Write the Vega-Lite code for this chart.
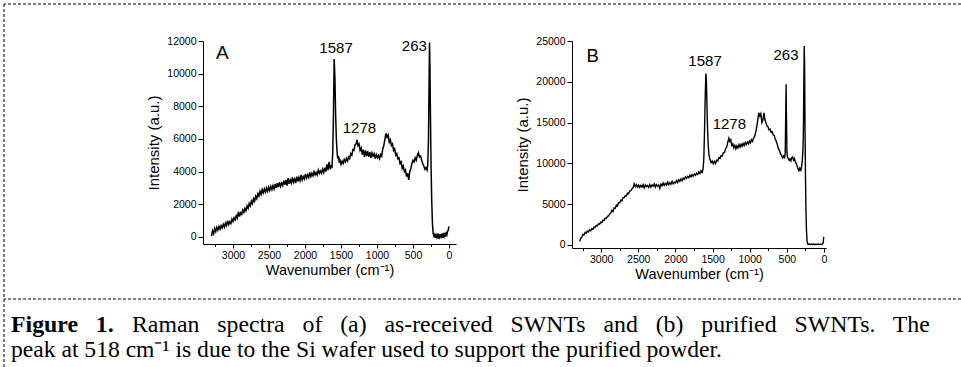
{
  "$schema": "https://vega.github.io/schema/vega-lite/v6.json",
  "padding": {"left": 3, "top": 3, "right": 0, "bottom": 0},
  "background": "white",
  "width": 957,
  "height": 363,
  "config": {
    "view": {"stroke": null},
    "axis": {"labelFont": "Liberation Sans", "labelFontSize": 10.5, "labelColor": "#000", "titleFont": "Liberation Sans", "titleFontWeight": "normal", "titleColor": "#000", "domainColor": "#000", "tickColor": "#000", "domainWidth": 1, "tickWidth": 1, "grid": false, "labelPadding": 2, "labelFlush": false, "labelOverlap": false},
    "axisX": {"titleFontSize": 14.5, "titlePadding": 3},
    "axisY": {"titleFontSize": 15, "titlePadding": 5}
  },
  "datasets": {
    "spectrumA": [
      {"wn":3300,"I":50},{"wn":3285,"I":380},{"wn":3270,"I":200},{"wn":3255,"I":520},{"wn":3240,"I":330},{"wn":3225,"I":600},{"wn":3210,"I":420},{"wn":3195,"I":650},{"wn":3180,"I":480},{"wn":3165,"I":700},{"wn":3150,"I":560},{"wn":3135,"I":780},{"wn":3120,"I":600},{"wn":3105,"I":850},{"wn":3090,"I":690},{"wn":3075,"I":1000},{"wn":3060,"I":760},{"wn":3045,"I":930},{"wn":3030,"I":820},{"wn":3015,"I":1100},{"wn":3000,"I":950},{"wn":2985,"I":1180},{"wn":2970,"I":1050},{"wn":2955,"I":1300},{"wn":2940,"I":1150},{"wn":2925,"I":1550},{"wn":2910,"I":1250},{"wn":2895,"I":1480},{"wn":2880,"I":1380},{"wn":2865,"I":1650},{"wn":2850,"I":1500},{"wn":2835,"I":1750},{"wn":2820,"I":1600},{"wn":2805,"I":1900},{"wn":2790,"I":1750},{"wn":2775,"I":2050},{"wn":2760,"I":1900},{"wn":2745,"I":2200},{"wn":2730,"I":2050},{"wn":2715,"I":2350},{"wn":2700,"I":2200},{"wn":2685,"I":2500},{"wn":2670,"I":2350},{"wn":2655,"I":2650},{"wn":2640,"I":2500},{"wn":2625,"I":2800},{"wn":2610,"I":2600},{"wn":2595,"I":2900},{"wn":2580,"I":2700},{"wn":2565,"I":2950},{"wn":2550,"I":2750},{"wn":2535,"I":3000},{"wn":2520,"I":2800},{"wn":2505,"I":3050},{"wn":2490,"I":2850},{"wn":2475,"I":3100},{"wn":2460,"I":2900},{"wn":2445,"I":3150},{"wn":2430,"I":2950},{"wn":2415,"I":3250},{"wn":2400,"I":3000},{"wn":2385,"I":3300},{"wn":2370,"I":3050},{"wn":2355,"I":3350},{"wn":2340,"I":3100},{"wn":2325,"I":3300},{"wn":2310,"I":3150},{"wn":2295,"I":3450},{"wn":2280,"I":3200},{"wn":2265,"I":3500},{"wn":2250,"I":3150},{"wn":2235,"I":3600},{"wn":2220,"I":3250},{"wn":2205,"I":3500},{"wn":2190,"I":3300},{"wn":2175,"I":3650},{"wn":2160,"I":3350},{"wn":2145,"I":3550},{"wn":2130,"I":3300},{"wn":2115,"I":3700},{"wn":2100,"I":3400},{"wn":2085,"I":3650},{"wn":2070,"I":3450},{"wn":2055,"I":3800},{"wn":2040,"I":3500},{"wn":2025,"I":3700},{"wn":2010,"I":3550},{"wn":1995,"I":3850},{"wn":1980,"I":3600},{"wn":1965,"I":3800},{"wn":1950,"I":3650},{"wn":1935,"I":3950},{"wn":1920,"I":3700},{"wn":1905,"I":3900},{"wn":1890,"I":3750},{"wn":1875,"I":4000},{"wn":1860,"I":3800},{"wn":1845,"I":3950},{"wn":1830,"I":3800},{"wn":1815,"I":4100},{"wn":1800,"I":3900},{"wn":1785,"I":4050},{"wn":1770,"I":3900},{"wn":1755,"I":4150},{"wn":1740,"I":3950},{"wn":1725,"I":4250},{"wn":1710,"I":4000},{"wn":1695,"I":4450},{"wn":1680,"I":4100},{"wn":1665,"I":4600},{"wn":1650,"I":4150},{"wn":1635,"I":4350},{"wn":1625,"I":4300},{"wn":1615,"I":5200},{"wn":1605,"I":7500},{"wn":1595,"I":10900},{"wn":1585,"I":9800},{"wn":1575,"I":7500},{"wn":1565,"I":6000},{"wn":1555,"I":5200},{"wn":1545,"I":4800},{"wn":1535,"I":4950},{"wn":1525,"I":4550},{"wn":1515,"I":4700},{"wn":1500,"I":4450},{"wn":1485,"I":4650},{"wn":1470,"I":4500},{"wn":1455,"I":4750},{"wn":1440,"I":4600},{"wn":1425,"I":4800},{"wn":1410,"I":4650},{"wn":1395,"I":4900},{"wn":1380,"I":4800},{"wn":1365,"I":5100},{"wn":1350,"I":5000},{"wn":1335,"I":5350},{"wn":1320,"I":5300},{"wn":1305,"I":5650},{"wn":1290,"I":5700},{"wn":1278,"I":5950},{"wn":1265,"I":5600},{"wn":1250,"I":5700},{"wn":1235,"I":5300},{"wn":1220,"I":5450},{"wn":1205,"I":5050},{"wn":1190,"I":5350},{"wn":1175,"I":4900},{"wn":1160,"I":5300},{"wn":1145,"I":4950},{"wn":1130,"I":5250},{"wn":1115,"I":4900},{"wn":1100,"I":5200},{"wn":1085,"I":4850},{"wn":1070,"I":5150},{"wn":1055,"I":4950},{"wn":1040,"I":5100},{"wn":1025,"I":4800},{"wn":1010,"I":5050},{"wn":995,"I":4850},{"wn":980,"I":5000},{"wn":965,"I":4800},{"wn":950,"I":5050},{"wn":935,"I":4950},{"wn":920,"I":5400},{"wn":905,"I":5600},{"wn":890,"I":6000},{"wn":875,"I":6350},{"wn":860,"I":6100},{"wn":845,"I":6250},{"wn":830,"I":5800},{"wn":815,"I":5950},{"wn":800,"I":5600},{"wn":785,"I":5700},{"wn":770,"I":5300},{"wn":755,"I":5400},{"wn":740,"I":5000},{"wn":725,"I":5100},{"wn":710,"I":4800},{"wn":695,"I":4850},{"wn":680,"I":4500},{"wn":665,"I":4600},{"wn":650,"I":4200},{"wn":635,"I":4350},{"wn":620,"I":4000},{"wn":605,"I":4100},{"wn":590,"I":3700},{"wn":575,"I":3900},{"wn":560,"I":3500},{"wn":545,"I":4000},{"wn":530,"I":4200},{"wn":515,"I":4500},{"wn":500,"I":4700},{"wn":485,"I":4600},{"wn":470,"I":4850},{"wn":455,"I":4700},{"wn":440,"I":5000},{"wn":425,"I":5150},{"wn":410,"I":4900},{"wn":395,"I":4950},{"wn":380,"I":4700},{"wn":365,"I":4500},{"wn":350,"I":4350},{"wn":335,"I":4150},{"wn":320,"I":4250},{"wn":305,"I":4100},{"wn":295,"I":4400},{"wn":285,"I":6000},{"wn":278,"I":9000},{"wn":271,"I":11900},{"wn":265,"I":10500},{"wn":258,"I":7500},{"wn":250,"I":4500},{"wn":240,"I":2200},{"wn":230,"I":800},{"wn":220,"I":200},{"wn":210,"I":50},{"wn":200,"I":150},{"wn":190,"I":-50},{"wn":180,"I":120},{"wn":170,"I":0},{"wn":160,"I":200},{"wn":150,"I":-100},{"wn":140,"I":100},{"wn":130,"I":-20},{"wn":120,"I":180},{"wn":110,"I":30},{"wn":100,"I":200},{"wn":90,"I":-60},{"wn":80,"I":150},{"wn":70,"I":20},{"wn":60,"I":250},{"wn":50,"I":100},{"wn":40,"I":230},{"wn":30,"I":120},{"wn":20,"I":350},{"wn":10,"I":420},{"wn":2,"I":650}
    ],
    "spectrumB": [
      {"wn":3290,"I":450},{"wn":3275,"I":800},{"wn":3260,"I":950},{"wn":3245,"I":1300},{"wn":3230,"I":1250},{"wn":3215,"I":1550},{"wn":3200,"I":1450},{"wn":3185,"I":1700},{"wn":3170,"I":1600},{"wn":3155,"I":1850},{"wn":3140,"I":1750},{"wn":3125,"I":2000},{"wn":3110,"I":1950},{"wn":3095,"I":2200},{"wn":3080,"I":2150},{"wn":3065,"I":2400},{"wn":3050,"I":2350},{"wn":3035,"I":2600},{"wn":3020,"I":2550},{"wn":3005,"I":2800},{"wn":2990,"I":2750},{"wn":2975,"I":3050},{"wn":2960,"I":3000},{"wn":2945,"I":3300},{"wn":2930,"I":3250},{"wn":2915,"I":3500},{"wn":2900,"I":3550},{"wn":2885,"I":3800},{"wn":2870,"I":3900},{"wn":2855,"I":4250},{"wn":2840,"I":4100},{"wn":2825,"I":4550},{"wn":2810,"I":4500},{"wn":2795,"I":4900},{"wn":2780,"I":4800},{"wn":2765,"I":5200},{"wn":2750,"I":5150},{"wn":2735,"I":5500},{"wn":2720,"I":5450},{"wn":2705,"I":5800},{"wn":2690,"I":5800},{"wn":2675,"I":6050},{"wn":2660,"I":6000},{"wn":2645,"I":6350},{"wn":2630,"I":6300},{"wn":2615,"I":6600},{"wn":2600,"I":6650},{"wn":2585,"I":6900},{"wn":2570,"I":7000},{"wn":2555,"I":7500},{"wn":2540,"I":7150},{"wn":2525,"I":7400},{"wn":2510,"I":7100},{"wn":2495,"I":7350},{"wn":2480,"I":7050},{"wn":2465,"I":7300},{"wn":2450,"I":7100},{"wn":2435,"I":7400},{"wn":2420,"I":7000},{"wn":2405,"I":7350},{"wn":2390,"I":7150},{"wn":2375,"I":7300},{"wn":2360,"I":7050},{"wn":2345,"I":7400},{"wn":2330,"I":7100},{"wn":2315,"I":7350},{"wn":2300,"I":7200},{"wn":2285,"I":7500},{"wn":2270,"I":7100},{"wn":2255,"I":7400},{"wn":2240,"I":7200},{"wn":2225,"I":7350},{"wn":2210,"I":6950},{"wn":2195,"I":7450},{"wn":2180,"I":7250},{"wn":2165,"I":7600},{"wn":2150,"I":7300},{"wn":2135,"I":7550},{"wn":2120,"I":7350},{"wn":2105,"I":7700},{"wn":2090,"I":7400},{"wn":2075,"I":7650},{"wn":2060,"I":7450},{"wn":2045,"I":7800},{"wn":2030,"I":7500},{"wn":2015,"I":7700},{"wn":2000,"I":7600},{"wn":1985,"I":7900},{"wn":1970,"I":7650},{"wn":1955,"I":8000},{"wn":1940,"I":7800},{"wn":1925,"I":8100},{"wn":1910,"I":7900},{"wn":1895,"I":8200},{"wn":1880,"I":8050},{"wn":1865,"I":8350},{"wn":1850,"I":8150},{"wn":1835,"I":8400},{"wn":1820,"I":8250},{"wn":1805,"I":8550},{"wn":1790,"I":8350},{"wn":1775,"I":8600},{"wn":1760,"I":8450},{"wn":1745,"I":8700},{"wn":1730,"I":8550},{"wn":1715,"I":8800},{"wn":1700,"I":8650},{"wn":1685,"I":8950},{"wn":1670,"I":8750},{"wn":1655,"I":9100},{"wn":1640,"I":8900},{"wn":1628,"I":9300},{"wn":1618,"I":10500},{"wn":1608,"I":14000},{"wn":1598,"I":18500},{"wn":1590,"I":21000},{"wn":1583,"I":20200},{"wn":1575,"I":17000},{"wn":1567,"I":14000},{"wn":1558,"I":12200},{"wn":1548,"I":11000},{"wn":1535,"I":10500},{"wn":1520,"I":10100},{"wn":1505,"I":10300},{"wn":1490,"I":9950},{"wn":1475,"I":10250},{"wn":1460,"I":10000},{"wn":1445,"I":10400},{"wn":1430,"I":10300},{"wn":1415,"I":10700},{"wn":1400,"I":10600},{"wn":1385,"I":10950},{"wn":1370,"I":10900},{"wn":1355,"I":11300},{"wn":1340,"I":11350},{"wn":1325,"I":11800},{"wn":1310,"I":12000},{"wn":1295,"I":12600},{"wn":1280,"I":13100},{"wn":1268,"I":12700},{"wn":1255,"I":12900},{"wn":1242,"I":12200},{"wn":1228,"I":12400},{"wn":1214,"I":11900},{"wn":1200,"I":12200},{"wn":1186,"I":11800},{"wn":1172,"I":12150},{"wn":1158,"I":11900},{"wn":1144,"I":12300},{"wn":1130,"I":12000},{"wn":1116,"I":12350},{"wn":1102,"I":12100},{"wn":1088,"I":12450},{"wn":1074,"I":12200},{"wn":1060,"I":12550},{"wn":1046,"I":12300},{"wn":1032,"I":12600},{"wn":1018,"I":12400},{"wn":1004,"I":12750},{"wn":990,"I":12500},{"wn":976,"I":12900},{"wn":962,"I":12700},{"wn":948,"I":13100},{"wn":934,"I":13300},{"wn":920,"I":13800},{"wn":906,"I":14400},{"wn":892,"I":15300},{"wn":878,"I":16200},{"wn":864,"I":15800},{"wn":850,"I":16100},{"wn":836,"I":15000},{"wn":822,"I":15300},{"wn":808,"I":16200},{"wn":796,"I":15400},{"wn":782,"I":15000},{"wn":768,"I":14600},{"wn":754,"I":14500},{"wn":740,"I":14100},{"wn":726,"I":14200},{"wn":712,"I":13800},{"wn":698,"I":13900},{"wn":684,"I":13500},{"wn":670,"I":13400},{"wn":656,"I":13000},{"wn":642,"I":12700},{"wn":628,"I":12300},{"wn":614,"I":11800},{"wn":600,"I":11600},{"wn":586,"I":11200},{"wn":572,"I":11000},{"wn":558,"I":10700},{"wn":544,"I":10900},{"wn":532,"I":10600},{"wn":522,"I":11200},{"wn":515,"I":16000},{"wn":510,"I":19700},{"wn":505,"I":15500},{"wn":499,"I":11500},{"wn":492,"I":10800},{"wn":482,"I":10600},{"wn":470,"I":10400},{"wn":458,"I":10550},{"wn":446,"I":10300},{"wn":434,"I":10700},{"wn":422,"I":10800},{"wn":410,"I":10400},{"wn":398,"I":10600},{"wn":386,"I":10200},{"wn":374,"I":10000},{"wn":362,"I":9700},{"wn":350,"I":9300},{"wn":338,"I":9100},{"wn":326,"I":9400},{"wn":314,"I":9050},{"wn":302,"I":9600},{"wn":292,"I":10400},{"wn":284,"I":11500},{"wn":277,"I":14000},{"wn":270,"I":21000},{"wn":266,"I":24400},{"wn":261,"I":22000},{"wn":256,"I":15000},{"wn":250,"I":9000},{"wn":243,"I":4500},{"wn":236,"I":1800},{"wn":228,"I":500},{"wn":220,"I":150},{"wn":210,"I":80},{"wn":200,"I":120},{"wn":185,"I":60},{"wn":170,"I":130},{"wn":155,"I":70},{"wn":140,"I":110},{"wn":125,"I":40},{"wn":110,"I":100},{"wn":95,"I":60},{"wn":80,"I":120},{"wn":65,"I":50},{"wn":50,"I":100},{"wn":35,"I":80},{"wn":20,"I":130},{"wn":10,"I":300},{"wn":4,"I":1000}
    ],
    "peaksA": [
      {"wn":1569,"I":11590,"label":"1587"},{"wn":1245,"I":6656,"label":"1278"},{"wn":481,"I":11700,"label":"263"}
    ],
    "peaksB": [
      {"wn":1601,"I":22550,"label":"1587"},{"wn":1274,"I":14790,"label":"1278"},{"wn":511,"I":23250,"label":"263"}
    ],
    "letterA": [{"wn":3150,"I":11270,"label":"A"}],
    "letterB": [{"wn":3113,"I":23160,"label":"B"}]
  },
  "layer": [
    {
      "layer": [
        {"data": {"values": [{}]}, "mark": {"type": "rule", "color": "black", "strokeWidth": 1, "strokeDash": [3, 2]},
         "encoding": {"y": {"datum": 0, "type": "quantitative", "scale": {"domain": [0, 363], "range": [0, 363], "nice": false, "zero": false}, "axis": null}}},
        {"data": {"values": [{}]}, "mark": {"type": "rule", "color": "black", "strokeWidth": 1, "strokeDash": [3, 2]},
         "encoding": {"y": {"datum": 295, "type": "quantitative"}}},
        {"data": {"values": [{}]}, "mark": {"type": "rule", "color": "black", "strokeWidth": 1, "strokeDash": [3, 2]},
         "encoding": {"x": {"datum": 0, "type": "quantitative", "scale": {"domain": [0, 957], "range": [0, 957], "nice": false, "zero": false}, "axis": null}}},
        {"data": {"values": [{}]}, "mark": {"type": "text", "font": "Liberation Serif", "fontSize": 23.8, "fontWeight": "bold", "align": "left", "baseline": "alphabetic", "color": "black"},
         "encoding": {"x": {"datum": 7, "type": "quantitative"}, "y": {"datum": 328, "type": "quantitative"}, "text": {"value": "Figure\u2002 1."}}},
        {"data": {"values": [{}]}, "mark": {"type": "text", "font": "Liberation Serif", "fontSize": 23.8, "align": "left", "baseline": "alphabetic", "color": "black"},
         "encoding": {"x": {"datum": 128, "type": "quantitative"}, "y": {"datum": 328, "type": "quantitative"}, "text": {"value": "Raman\u2002 spectra\u2002 of\u2002 (a)\u2002 as-received\u2002 SWNTs\u2002 and\u2002 (b)\u2002 purified\u2002 SWNTs.\u2002 The"}}},
        {"data": {"values": [{}]}, "mark": {"type": "text", "font": "Liberation Serif", "fontSize": 23.6, "align": "left", "baseline": "alphabetic", "color": "black"},
         "encoding": {"x": {"datum": 7, "type": "quantitative"}, "y": {"datum": 353, "type": "quantitative"}, "text": {"value": "peak at 518 cm\u207b\u00b9 is due to the Si wafer used to support the purified powder."}}}
      ]
    },
    {
      "layer": [
        {"data": {"name": "spectrumA"}, "mark": {"type": "line", "color": "black", "strokeWidth": 1.5},
         "encoding": {
           "x": {"field": "wn", "type": "quantitative", "scale": {"domain": [-97, 3417], "range": [452, 199], "nice": false, "zero": false},
                 "axis": {"orient": "bottom", "offset": -123, "title": "Wavenumber (cm\u207b\u00b9)", "format": "d", "values": [0,250,500,750,1000,1250,1500,1750,2000,2250,2500,2750,3000,3250], "labelExpr": "datum.value % 500 === 0 ? datum.label : ''", "tickSize": {"condition": {"test": "datum.value % 500 === 0", "value": 4}, "value": 2.5}}},
           "y": {"field": "I", "type": "quantitative", "scale": {"domain": [-429, 12000], "range": [240, 37], "nice": false, "zero": false},
                 "axis": {"orient": "left", "offset": -199, "title": "Intensity (a.u.)", "format": "d", "values": [0,1000,2000,3000,4000,5000,6000,7000,8000,9000,10000,11000,12000], "labelExpr": "datum.value % 2000 === 0 ? datum.label : ''", "tickSize": {"condition": {"test": "datum.value % 2000 === 0", "value": 5}, "value": 3}}}
         }},
        {"data": {"name": "peaksA"}, "mark": {"type": "text", "font": "Liberation Sans", "fontSize": 15, "color": "black"},
         "encoding": {"x": {"field": "wn", "type": "quantitative"}, "y": {"field": "I", "type": "quantitative"}, "text": {"field": "label"}}},
        {"data": {"name": "letterA"}, "mark": {"type": "text", "font": "Liberation Sans", "fontSize": 19, "color": "black"},
         "encoding": {"x": {"field": "wn", "type": "quantitative"}, "y": {"field": "I", "type": "quantitative"}, "text": {"field": "label"}}}
      ]
    },
    {
      "layer": [
        {"data": {"name": "spectrumB"}, "mark": {"type": "line", "color": "black", "strokeWidth": 1.4},
         "encoding": {
           "x": {"field": "wn", "type": "quantitative", "scale": {"domain": [-27, 3392], "range": [822, 568], "nice": false, "zero": false},
                 "axis": {"orient": "bottom", "offset": -119, "title": "Wavenumber (cm\u207b\u00b9)", "format": "d", "values": [0,250,500,750,1000,1250,1500,1750,2000,2250,2500,2750,3000,3250], "labelExpr": "datum.value % 500 === 0 ? datum.label : ''", "tickSize": {"condition": {"test": "datum.value % 500 === 0", "value": 4}, "value": 2.5}}},
           "y": {"field": "I", "type": "quantitative", "scale": {"domain": [-368, 25000], "range": [244, 37], "nice": false, "zero": false},
                 "axis": {"orient": "left", "offset": -568, "title": "Intensity (a.u.)", "format": "d", "values": [0,2500,5000,7500,10000,12500,15000,17500,20000,22500,25000], "labelExpr": "datum.value % 5000 === 0 ? datum.label : ''", "tickSize": {"condition": {"test": "datum.value % 5000 === 0", "value": 5}, "value": 3}}}
         }},
        {"data": {"name": "peaksB"}, "mark": {"type": "text", "font": "Liberation Sans", "fontSize": 15, "color": "black"},
         "encoding": {"x": {"field": "wn", "type": "quantitative"}, "y": {"field": "I", "type": "quantitative"}, "text": {"field": "label"}}},
        {"data": {"name": "letterB"}, "mark": {"type": "text", "font": "Liberation Sans", "fontSize": 18.5, "color": "black"},
         "encoding": {"x": {"field": "wn", "type": "quantitative"}, "y": {"field": "I", "type": "quantitative"}, "text": {"field": "label"}}}
      ]
    }
  ],
  "resolve": {"scale": {"x": "independent", "y": "independent"}, "axis": {"x": "independent", "y": "independent"}}
}
